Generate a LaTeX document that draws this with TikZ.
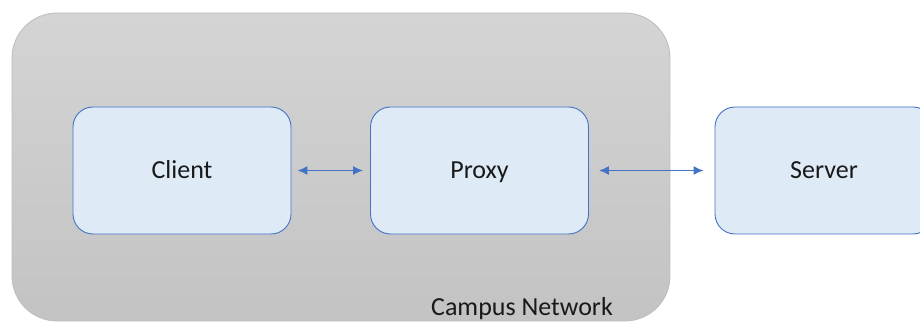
\documentclass[tikz,border=0pt]{standalone}
\usepackage{fontspec}
\setmainfont{Carlito}
\usetikzlibrary{arrows.meta}
\definecolor{boxfill}{HTML}{DEEAF6}
\definecolor{boxline}{HTML}{4472C4}
\definecolor{arrowc}{HTML}{4472C4}
\definecolor{graytop}{HTML}{D4D4D4}
\definecolor{graybot}{HTML}{C3C3C3}
\definecolor{grayline}{HTML}{BDBDBD}
\tikzset{
  lbl/.style={font=\fontsize{26}{30}\selectfont, text=black!90},
  compbox/.style={lbl, draw=boxline, fill=boxfill, line width=0.9pt, rounded corners=20pt,
    minimum width=218pt, minimum height=127pt, inner sep=0pt,
    text height=16.7pt, text depth=0pt},
  link/.style={draw=arrowc, line width=1.5pt, {Latex[length=10pt,width=9pt]}-{Latex[length=10pt,width=9pt]}},
}
\begin{document}
\begin{tikzpicture}[x=1pt,y=-1pt]
\useasboundingbox (0,0) rectangle (920,323);
\shade[top color=graytop, bottom color=graybot, draw=grayline, line width=0.8pt, rounded corners=45pt]
  (12,13) rectangle (670,321);
\node[compbox] (client) at (182,170.5) {Client};
\node[compbox] (proxy) at (479.5,170.5) {Proxy};
\node[compbox] (server) at (824,170.5) {Server};
\node[lbl, anchor=base] (campus) at (522,315) {Campus Network};
\draw[link] ([xshift=6pt]client.east) -- ([xshift=-7pt]proxy.west);
\draw[link] ([xshift=10pt]proxy.east) -- ([xshift=-11pt]server.west);
\end{tikzpicture}
\end{document}
